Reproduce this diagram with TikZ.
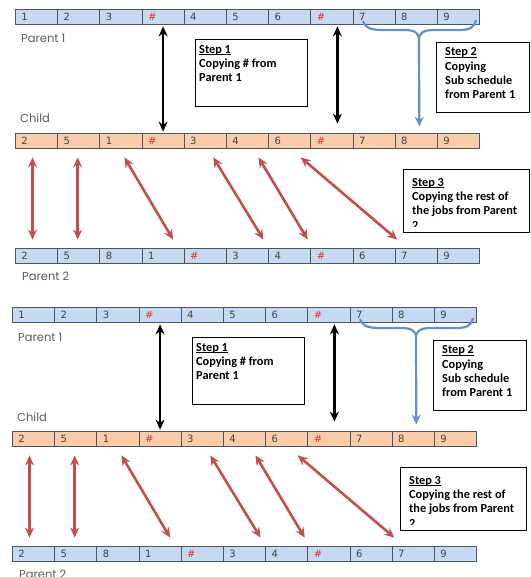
\documentclass[tikz,border=0pt]{standalone}
\usepackage{fontspec}
\setmainfont{Carlito}
\newfontfamily\cellfont{DejaVu Sans}
\newfontfamily\tagfont{Poppins}
\usetikzlibrary{arrows.meta}

\definecolor{parentfill}{RGB}{198,217,241}
\definecolor{childfill}{RGB}{251,204,170}
\definecolor{celledge}{RGB}{75,85,100}
\definecolor{hashred}{RGB}{225,50,40}
\definecolor{linkred}{RGB}{192,80,77}
\definecolor{copyblue}{RGB}{100,145,200}
\definecolor{tagtext}{RGB}{90,90,90}
\newcommand{\hsh}{\textcolor{hashred}{\#}}
% underline through the descenders, as a word processor draws it
\newcommand{\stepul}[1]{\setbox0\hbox{#1}\rlap{\rule[-1.8pt]{\wd0}{0.7pt}}\box0}

\begin{document}
\begin{tikzpicture}[x=1pt, y=-1pt,
  cell/.style={draw=celledge, line width=0.8pt, text width=30.2pt, inner xsep=6pt,
    minimum height=15pt, align=left, anchor=west, text=black!75,
    font=\cellfont\fontsize{10}{11}\selectfont},
  parent/.style={cell, fill=parentfill},
  child/.style={cell, fill=childfill},
  tag/.style={anchor=base west, inner sep=0pt, text=tagtext,
    font=\tagfont\fontsize{11.5}{13}\selectfont},
  stepbox/.style={draw, line width=0.6pt, fill=white, anchor=north west, inner sep=0pt},
  steptext/.style={anchor=north west, align=left, inner sep=0pt,
    font=\bfseries\fontsize{12.3}{14.3}\selectfont},
  dbl/.style={{Stealth[length=10pt,width=9pt]}-{Stealth[length=10pt,width=9pt]}, line width=2.2pt},
  swap/.style={dbl, draw=linkred, line width=2.6pt},
  brace/.style={draw=copyblue, line width=2.2pt},
  copyarrow/.style={-{Stealth[length=10pt,width=9pt]}, draw=copyblue, line width=2.2pt}
]
\useasboundingbox (0,0) rectangle (530,577);

% the same figure twice, the lower one a little shifted
\foreach \cp/\dx/\dy in {t/0/0, b/-3/298} {
\begin{scope}[shift={(\dx,\dy)}]
  % rows
  \foreach \v [count=\i] in {1,2,3,\hsh,4,5,6,\hsh,7,8,9}
    \node[parent] (\cp a\i) at ({15+42.2*(\i-1)},16.5) {\v};
  \foreach \v [count=\i] in {2,5,1,\hsh,3,4,6,\hsh,7,8,9}
    \node[child] (\cp c\i) at ({15+42.2*(\i-1)},140.5) {\v};
  \foreach \v [count=\i] in {2,5,8,1,\hsh,3,4,\hsh,6,7,9}
    \node[parent] (\cp b\i) at ({15+42.2*(\i-1)},255.5) {\v};

  \node[tag] (\cp p1) at (21,43) {Parent 1};
  \node[tag] (\cp ch) at (20,123) {Child};
  \node[tag] (\cp p2) at (22,280) {Parent 2};

  % step boxes
  \node[stepbox, minimum width=112pt, minimum height=67pt] (\cp s1) at (195,39) {};
  \node[steptext] at ([xshift=4pt,yshift=-6pt]\cp s1.north west)
    {\stepul{Step 1}\\Copying \# from\\Parent 1};
  \node[stepbox, minimum width=93pt, minimum height=70pt] (\cp s2) at (436,42) {};
  \node[steptext] at ([xshift=9pt,yshift=-5.5pt]\cp s2.north west)
    {\stepul{Step 2}\\Copying\\Sub schedule\\from Parent 1};
  \node[stepbox, minimum width=126pt, minimum height=63pt] (\cp s3) at (403,169) {};
  \begin{scope}
    \clip ([yshift=6pt]\cp s3.south west) rectangle (\cp s3.north east);
    \node[steptext] at ([xshift=9pt,yshift=-9pt]\cp s3.north west)
      {\stepul{Step 3}\\Copying the rest of\\the jobs from Parent\\2};
  \end{scope}

  % step 1
  \draw[dbl] ([yshift=-2pt]\cp a4.south) -- ([yshift=1pt]\cp c4.north);
  \draw[dbl] ([xshift=5.5pt,yshift=-2pt]\cp a8.south) -- ([xshift=5.5pt,yshift=9pt]\cp c8.north);

  % step 2
  \coordinate (\cp tip) at (419,40);
  \draw[brace] (363,21) .. controls (366,29) and (372,30) .. (385,30) -- (404,30)
    .. controls (415,30) and (419,33) .. (\cp tip)
    .. controls (419,33) and (423,30) .. (434,30) -- (458,30)
    .. controls (470,30) and (474,28) .. (476,20);
  \draw[copyarrow] (\cp tip) -- ([xshift=3pt,yshift=6pt]\cp c10.north);

  % step 3
  \foreach \s/\sx/\e/\ex in {1/-4/1/-4, 2/-1/2/-1, 3/3.5/4/10, 5/8/6/16, 6/11/7/18, 7/11/10/-19}
    \draw[swap] ([xshift=\sx pt,yshift=-9pt]\cp c\s.south) -- ([xshift=\ex pt,yshift=8pt]\cp b\e.north);
\end{scope}
}
\end{tikzpicture}
\end{document}
